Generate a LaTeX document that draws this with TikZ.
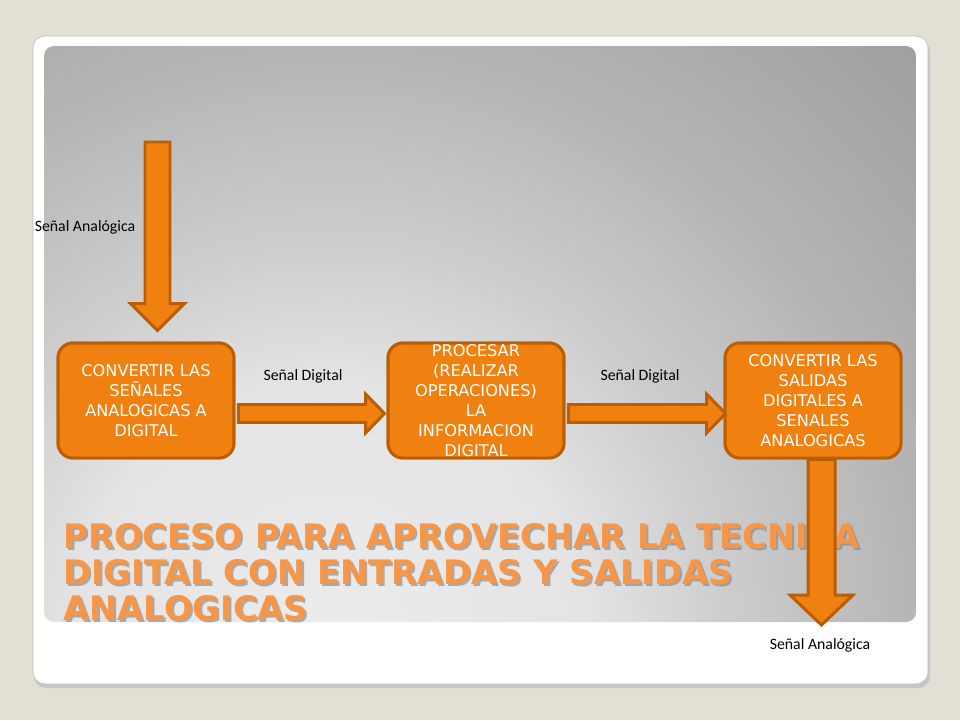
\documentclass[tikz,border=0pt]{standalone}
\usepackage{fontspec}
\setmainfont{Carlito}
\newfontfamily\titlefont{DejaVu Sans}
\newfontfamily\boxfont{DejaVu Sans}
\usetikzlibrary{calc}

\definecolor{slidebg}{RGB}{228,223,213}
\definecolor{boxorange}{RGB}{240,128,16}
\definecolor{boxedge}{RGB}{186,94,6}
\definecolor{titleorange}{RGB}{247,150,70}
\definecolor{greyA}{RGB}{236,236,236}
\definecolor{greyB}{RGB}{228,228,228}
\definecolor{greyC}{RGB}{206,206,206}
\definecolor{greyD}{RGB}{180,180,180}
\definecolor{greyE}{RGB}{158,158,158}

\pgfdeclareradialshading{panelshade}{\pgfpoint{0bp}{0bp}}{%
  color(0bp)=(greyA); color(7.5bp)=(greyB); color(11.5bp)=(greyC); color(17.5bp)=(greyD); color(25bp)=(greyE); color(50bp)=(greyE)}

\begin{document}
\begin{tikzpicture}[x=0.02cm, y=-0.02cm,
    box/.style = {rectangle, rounded corners=0.3cm, fill=boxorange, draw=boxedge, line width=1.7pt,
                  minimum width=3.52cm, minimum height=2.3cm, text=white, align=center,
                  font=\boxfont\fontsize{9.2}{11.3}\selectfont, inner sep=0pt},
    barrow/.style = {fill=boxorange, draw=boxedge, line width=1.7pt, line join=miter},
    lbl/.style = {font=\fontsize{9}{10}\selectfont, text=black, inner sep=0pt},
    title/.style = {font=\titlefont\bfseries\fontsize{19.2}{20.4}\selectfont, align=left,
                    anchor=north west, inner sep=0pt}]

    % slide background, card and grey panel
    \fill[slidebg] (0,0) rectangle (960,720);
    \fill[gray!45, rounded corners=0.24cm] (34,40) rectangle (930,688);
    \filldraw[fill=white, draw=gray!55, line width=0.3pt, rounded corners=0.24cm] (33,36) rectangle (928,684);
    \begin{scope}
        \clip[rounded corners=0.2cm] (44,46) rectangle (916,622);
        \shade[shading=panelshade] (330,640) circle (17cm);
    \end{scope}

    % title with its shadow
    \node[title, text=gray, opacity=0.6] (titleshadow) at (65,525) {PROCESO PARA APROVECHAR LA TECNICA\\DIGITAL CON ENTRADAS Y SALIDAS\\ANALOGICAS};
    \node[title, text=titleorange] (titletext) at (63,523) {PROCESO PARA APROVECHAR LA TECNICA\\DIGITAL CON ENTRADAS Y SALIDAS\\ANALOGICAS};

    % boxes (placed first so the arrows can use them, drawn again on top)
    \path (146,400.5) node[box] (conv1) {}
          (476,400.5) node[box] (proc) {}
          (813,400.5) node[box] (conv2) {};

    \coordinate (insrc) at (157.5,142);
    \coordinate (intip) at ($(conv1.north)+(11.5,-11)$);
    \coordinate (a1s) at ($(conv1.east)+(3,13)$);
    \coordinate (a1e) at ($(proc.west)+(-2,13)$);
    \coordinate (a2s) at ($(proc.east)+(3,13)$);
    \coordinate (a2e) at ($(conv2.west)+(2,13)$);
    \coordinate (outsrc) at ($(conv2.south)+(8.5,0)$);
    \coordinate (outtip) at (821.5,625);

    % block arrows
    \draw[barrow] ($(insrc)+(-12.5,0)$) -- ($(intip)+(-12.5,-27)$) -- ($(intip)+(-27,-27)$) -- (intip)
        -- ($(intip)+(27,-27)$) -- ($(intip)+(12.5,-27)$) -- ($(insrc)+(12.5,0)$) -- cycle;
    \draw[barrow] ($(a1s)+(0,-9)$) -- ($(a1e)+(-19,-9)$) -- ($(a1e)+(-19,-19.5)$) -- (a1e)
        -- ($(a1e)+(-19,19.5)$) -- ($(a1e)+(-19,9)$) -- ($(a1s)+(0,9)$) -- cycle;
    \draw[barrow] ($(a2s)+(0,-9)$) -- ($(a2e)+(-19,-9)$) -- ($(a2e)+(-19,-19.5)$) -- (a2e)
        -- ($(a2e)+(-19,19.5)$) -- ($(a2e)+(-19,9)$) -- ($(a2s)+(0,9)$) -- cycle;
    \draw[barrow] ($(outsrc)+(-13.5,0)$) -- ($(outtip)+(-13.5,-30)$) -- ($(outtip)+(-31.5,-30)$) -- (outtip)
        -- ($(outtip)+(31.5,-30)$) -- ($(outtip)+(13.5,-30)$) -- ($(outsrc)+(13.5,0)$) -- cycle;

    \node[box] at (conv1) {CONVERTIR LAS\\SEÑALES\\ANALOGICAS A\\DIGITAL};
    \node[box] at (proc) {PROCESAR\\(REALIZAR\\OPERACIONES)\\LA\\INFORMACION\\DIGITAL};
    \node[box] at (conv2) {CONVERTIR LAS\\SALIDAS\\DIGITALES A\\SENALES\\ANALOGICAS};

    % signal labels
    \node[lbl] (inlbl) at (85,227) {Señal Analógica};
    \node[lbl] (dig1) at (303,376) {Señal Digital};
    \node[lbl] (dig2) at (640,376) {Señal Digital};
    \node[lbl] (outlbl) at (820,645) {Señal Analógica};

\end{tikzpicture}
\end{document}
